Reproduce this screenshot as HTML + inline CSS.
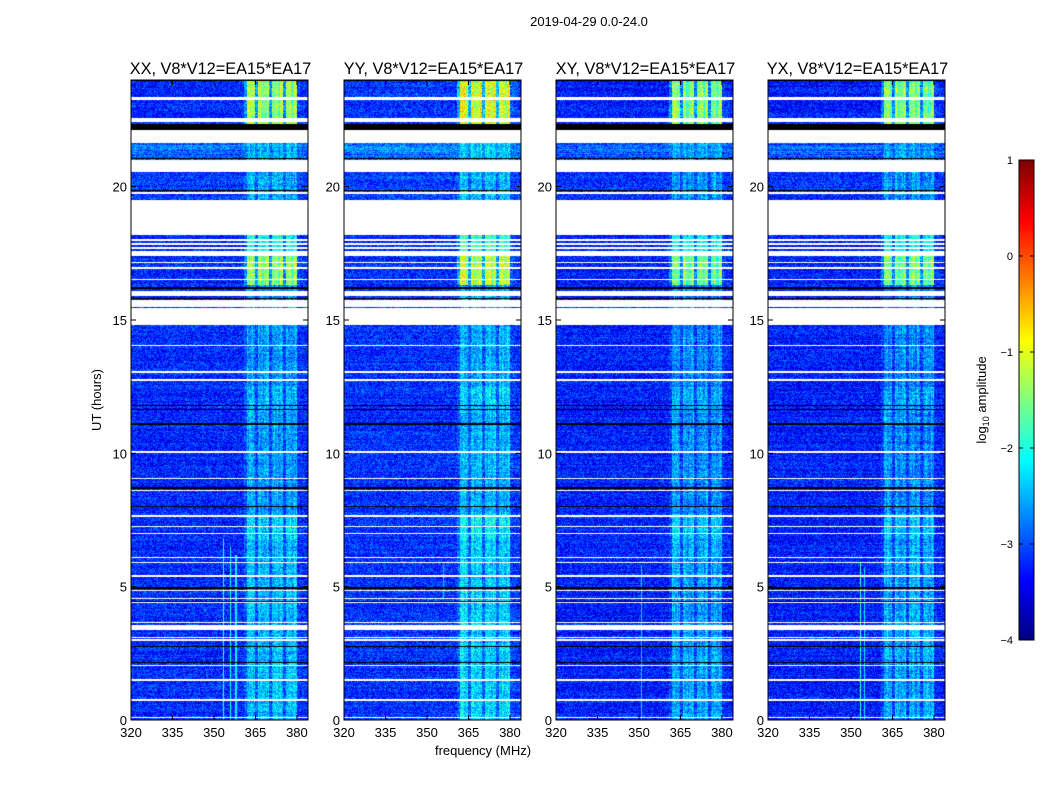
<!DOCTYPE html>
<html><head><meta charset="utf-8"><style>
body{margin:0;background:#fff;}
#wrap{position:relative;width:1050px;height:800px;background:#fff;font-family:"Liberation Sans",sans-serif;}
canvas{position:absolute;left:0;top:0;}
</style></head><body>
<div id="wrap">
<canvas id="c" width="1050" height="800"></canvas>
<svg id="s" width="1050" height="800" style="position:absolute;left:0;top:0"></svg>
</div>
<script>
// ---- data ----
const panelTitles=["XX, V8*V12=EA15*EA17","YY, V8*V12=EA15*EA17","XY, V8*V12=EA15*EA17","YX, V8*V12=EA15*EA17"];
const panelBandGain=[1.0,1.12,0.95,0.95];
const panelBase=[-3.2,-3.15,-3.25,-3.25];
const xTicks=[320,335,350,365,380];
const yTicks=[0,5,10,15,20];
const cbTicks=[1,0,-1,-2,-3,-4];
// frequency profile, 1 MHz bins starting at 320 MHz (offset in log10 amplitude)
const freqStart=320;
const freqProfile=[0,0,0,0,0,0,0,0,0,0, 0,0,0,0,0,0,0,0,0,0, 0,0,0,0,0,0,0,0,0,0, 0,0,0,0,0,0,0,0,0,0, 0,0.3,1.0,1.0,0.9,0.3,1.0,0.8,0.9,1.0,
 0.3,0.9,1.0,0.8,1.0,0.3,0.9,1.0,0.8,1.0,0.1,0.05,0.05,0];
// time segments [startH,endH,bandMultiplier,baseOffset]
const timeSegments=[[0,6.8,0.8,0],[6.8,7.7,1.0,0],[7.7,11.5,0.65,0],[11.5,12.5,0.8,0],[12.5,15,0.6,0],[15,16.3,0.6,0],[16.3,17.6,1.9,0],[17.6,18.3,1.3,0],[18.3,20.6,0.6,0.1],[20.6,21.7,0.45,0.3],[21.7,22.3,1.0,0],[22.3,24,2.0,0]];
// white (flagged) time ranges in hours
const gaps=[[23.25,23.36],[22.42,22.57],[21.63,22.12],[20.55,21.0],[19.74,19.79],[18.19,19.5],[17.98,18.02],[17.83,17.87],[17.68,17.72],[17.4,17.58],[17.15,17.19],[16.93,16.97],[16.5,16.53],[15.9,16.1],[15.5,15.75],[14.8,15.45],[14.04,14.08],[13.03,13.07],[12.73,12.77],[10.03,10.07],[9.05,9.09],[8.6,8.64],[7.63,7.67],[7.25,7.29],[6.98,7.02],[6.09,6.13],[5.87,5.91],[5.38,5.42],[4.85,4.89],[4.55,4.59],[4.37,4.41],[3.65,3.69],[3.38,3.56],[3.08,3.12],[2.98,3.02],[2.04,2.08],[1.48,1.52],[0.73,0.77],[0.09,0.13]];
// black (zero) time ranges in hours
const blacks=[[22.12,22.35],[21.05,21.09],[19.85,19.89],[16.16,16.24],[15.8,15.84],[11.79,11.83],[11.64,11.68],[11.08,11.12],[8.68,8.72],[8.0,8.04],[4.93,4.97],[4.44,4.48],[2.75,2.79],[2.12,2.16],[23.95,24]];
// narrow spikes [panel,freqMHz,startH,endH,level]
const spikes=[[0,353.5,0,6.8,-1.9],[0,356,0,6.5,-2.0],[0,358,0,6.2,-2.2],[3,353.5,0,5.9,-1.9],[3,355,0,5.7,-2.2],[1,356,4.5,5.8,-2.4],[2,351,0,5.8,-2.4]];
// ---- layout ----
const panelX=[131,344,556,768], pW=177, pTop=80, pBot=720;
const fMin=320, fMax=384, tMin=0, tMax=24;
function xOf(p,f){return panelX[p]+(f-fMin)/(fMax-fMin)*pW;}
function yOf(h){return pBot-(h-tMin)/(tMax-tMin)*(pBot-pTop);}
function fOf(px){return fMin+px/pW*(fMax-fMin);}
function hOf(py){return tMax-py/(pBot-pTop)*(tMax-tMin);}
function jet(v){let t=(v+4)/5;t=Math.max(0,Math.min(1,t));
 const c=x=>Math.round(255*Math.max(0,Math.min(1,1.5-Math.abs(x))));
 return [c(4*t-3),c(4*t-2),c(4*t-1)];}
function hash(a,b){let h=(a*374761393+b*668265263)|0;h=(h^(h>>>13))*1274126177|0;return ((h^(h>>>16))>>>0)/4294967296;}
const ctx=document.getElementById('c').getContext('2d');
for(let p=0;p<4;p++){
 const img=ctx.createImageData(pW,pBot-pTop);const d=img.data;
 for(let y=0;y<pBot-pTop;y++){
  const h=hOf(y+0.5);
  let seg=timeSegments.find(s=>h>=s[0]&&h<s[1])||[0,0,1,0];
  let white=gaps.some(g=>h>=g[0]&&h<g[1]);
  let black=blacks.some(g=>h>=g[0]&&h<g[1]);
  const rowJ=(hash(p*7+1,Math.floor(h*20))-0.5)*0.25;
  for(let x=0;x<pW;x++){
   const i=(y*pW+x)*4;
   if(white){d[i]=d[i+1]=d[i+2]=255;d[i+3]=255;continue;}
   if(black){d[i]=d[i+1]=d[i+2]=0;d[i+3]=255;continue;}
   const f=fOf(x+0.5);const bin=Math.min(freqProfile.length-1,Math.floor(f-freqStart));
   const colJ=(hash(p*31+x,Math.floor(h/3))-0.5)*0.35;
   let band=freqProfile[bin]*seg[2]*panelBandGain[p];
   if(band>0)band+=colJ*freqProfile[bin];
   let v=panelBase[p]+seg[3]+band+rowJ;
   if(seg[3]>0.2&&freqProfile[bin]===0)v+=(hash(y,3)-0.5)*0.4;
   v+=(hash(x+p*1000,y)-0.5)*0.9;
   for(const s of spikes){if(s[0]===p&&Math.abs(f-s[1])<0.25&&h>=s[2]&&h<s[3])v=s[4];}
   const c=jet(v);d[i]=c[0];d[i+1]=c[1];d[i+2]=c[2];d[i+3]=255;
  }
 }
 ctx.putImageData(img,panelX[p],pTop);
}
// colorbar
for(let y=160;y<640;y++){const v=1-(y-160)/480*5;const c=jet(v);ctx.fillStyle=`rgb(${c})`;ctx.fillRect(1019,y,15,1);}
// ---- SVG overlay ----
const S=document.getElementById('s');const NS='http://www.w3.org/2000/svg';
function el(tag,attrs,txt){const e=document.createElementNS(NS,tag);for(const k in attrs)e.setAttribute(k,attrs[k]);if(txt!==undefined)e.textContent=txt;S.appendChild(e);return e;}
for(let p=0;p<4;p++){
 const fr=el('rect',{x:panelX[p],y:pTop,width:pW,height:pBot-pTop,fill:'none',stroke:'#000','stroke-width':1});
 
 
 const t=el('text',{x:panelX[p]+pW/2+1,y:74,'text-anchor':'middle','font-size':16.3,fill:'#000'},panelTitles[p]);
 
 
 for(const f of xTicks){const x=xOf(p,f);
  el('line',{x1:x,x2:x,y1:pBot,y2:pBot-5,stroke:'#000'});el('line',{x1:x,x2:x,y1:pTop,y2:pTop+5,stroke:'#000'});
  const l=el('text',{x:x,y:737,'text-anchor':'middle','font-size':13},String(f));
  
  }
 for(const h of yTicks){const y=yOf(h);
  el('line',{x1:panelX[p],x2:panelX[p]+5,y1:y,y2:y,stroke:'#000'});el('line',{x1:panelX[p]+pW,x2:panelX[p]+pW-5,y1:y,y2:y,stroke:'#000'});
  const l=el('text',{x:panelX[p]-4,y:y+5,'text-anchor':'end','font-size':13},String(h));
  
  }
}
const st=el('text',{x:589,y:26,'text-anchor':'middle','font-size':13},'2019-04-29 0.0-24.0');


const yl=el('text',{x:0,y:0,transform:'translate(101,400) rotate(-90)','text-anchor':'middle','font-size':13},'UT (hours)');


const xl=el('text',{x:483,y:755,'text-anchor':'middle','font-size':13},'frequency (MHz)');


const cb=el('rect',{x:1019,y:160,width:15,height:480,fill:'none',stroke:'#000'});


for(const v of cbTicks){const y=160+(1-v)/5*480;
 el('line',{x1:1019,x2:1023,y1:y,y2:y,stroke:'#000'});el('line',{x1:1034,x2:1030,y1:y,y2:y,stroke:'#000'});
 const l=el('text',{x:1013,y:y+4,'text-anchor':'end','font-size':11},v<0?'\u2212'+(-v):String(v));
 
 }
const cl=el('text',{x:0,y:0,transform:'translate(986,400) rotate(-90)','text-anchor':'middle','font-size':13});


cl.innerHTML='log<tspan font-size="9" dy="3">10</tspan><tspan dy="-3"> amplitude</tspan>';
</script>
</body></html>
